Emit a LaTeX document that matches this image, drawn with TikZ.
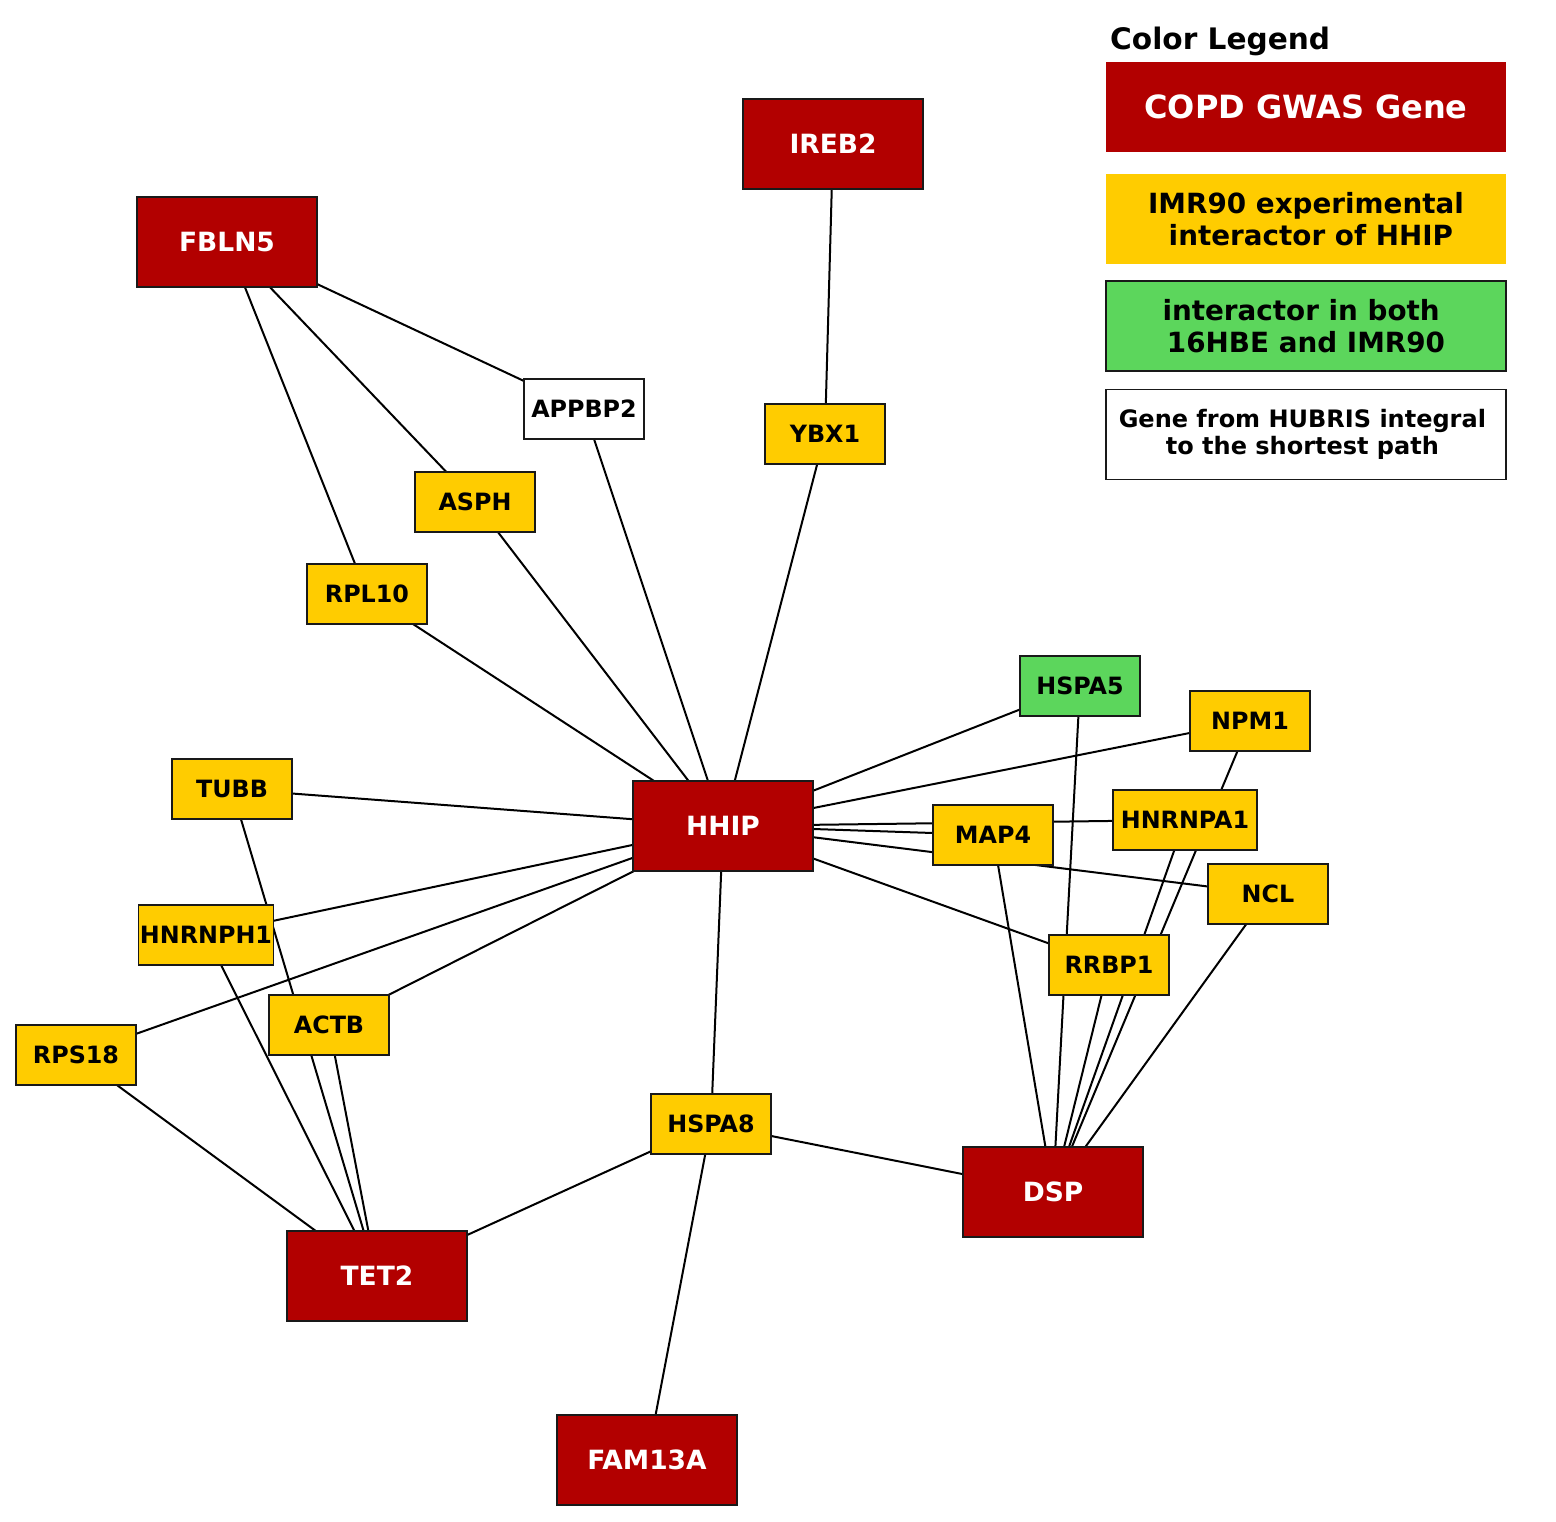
\documentclass[tikz,border=0pt]{standalone}
\usepackage{fontspec}
\setmainfont{DejaVu Sans}
\usepackage{tikz}
\usetikzlibrary{backgrounds}
\definecolor{gwasred}{RGB}{178,0,0}
\definecolor{imryellow}{RGB}{255,204,0}
\definecolor{bothgreen}{RGB}{92,214,92}

\begin{document}
\begin{tikzpicture}[% styles used in image code
        x = 1pt, y = -1pt,
gwas/.style = {draw=black!90, line width=1.8pt, fill=gwasred, text=white,
               minimum width=180pt, minimum height=90pt,
               inner sep=0pt, outer sep=0pt,
               font=\fontsize{26.5}{30}\selectfont\bfseries},
 imr/.style = {draw=black!90, line width=1.8pt, fill=imryellow,
               minimum width=120pt, minimum height=60pt,
               inner sep=1.5pt, outer sep=0pt,
               font=\fontsize{23.8}{27}\selectfont\bfseries},
both/.style = {imr, fill=bothgreen},
hubris/.style = {imr, fill=white},
link/.style = {line width=2pt},
 key/.style = {minimum width=400pt, minimum height=90pt,
               inner sep=0pt, outer sep=0pt, align=center}
                        ]
	\useasboundingbox (0,0) rectangle (1556,1522);

	% genes
	\node[gwas] (IREB2)   at (833,144)  {IREB2};
	\node[gwas] (FBLN5)   at (227,242)  {FBLN5};
	\node[hubris] (APPBP2) at (584,409) {APPBP2};
	\node[imr]  (YBX1)    at (825,434)  {YBX1};
	\node[imr]  (ASPH)    at (475,502)  {ASPH};
	\node[imr]  (RPL10)   at (367,594)  {RPL10};
	\node[both] (HSPA5)   at (1080,686) {HSPA5};
	\node[imr]  (NPM1)    at (1250,721) {NPM1};
	\node[imr]  (TUBB)    at (232,789)  {TUBB};
	\node[gwas] (HHIP)    at (723,826)  {HHIP};
	\node[imr]  (MAP4)    at (993,835)  {MAP4};
	\node[imr, minimum width=144pt] (HNRNPA1) at (1185,820) {HNRNPA1};
	\node[imr]  (NCL)     at (1268,894) {NCL};
	\node[imr]  (HNRNPH1) at (206,935)  {HNRNPH1};
	\node[imr]  (RRBP1)   at (1109,965) {RRBP1};
	\node[imr]  (ACTB)    at (329,1025) {ACTB};
	\node[imr]  (RPS18)   at (76,1055)  {RPS18};
	\node[imr]  (HSPA8)   at (711,1124) {HSPA8};
	\node[gwas] (DSP)     at (1053,1192) {DSP};
	\node[gwas] (TET2)    at (377,1276) {TET2};
	\node[gwas] (FAM13A)  at (647,1460) {FAM13A};

	% interactions, under the boxes
	\begin{scope}[on background layer]
	\draw[link] (FBLN5) -- (APPBP2);
	\draw[link] (FBLN5) -- (ASPH);
	\draw[link] (FBLN5) -- (RPL10);
	\draw[link] (IREB2) -- (YBX1);
	\draw[link] (APPBP2) -- (HHIP);
	\draw[link] (ASPH) -- (HHIP);
	\draw[link] (RPL10) -- (HHIP);
	\draw[link] (YBX1) -- (HHIP);
	\draw[link] (TUBB) -- (HHIP);
	\draw[link] (HNRNPH1) -- (HHIP);
	\draw[link] (RPS18) -- (HHIP);
	\draw[link] (ACTB) -- (HHIP);
	\draw[link] (HHIP) -- (HSPA5);
	\draw[link] (HHIP) -- (NPM1);
	\draw[link] (HHIP) -- (HNRNPA1);
	\draw[link] (HHIP) -- (MAP4);
	\draw[link] (HHIP) -- (NCL);
	\draw[link] (HHIP) -- (RRBP1);
	\draw[link] (HHIP) -- (HSPA8);
	\draw[link] (HSPA5) -- (DSP);
	\draw[link] (NPM1) -- (DSP);
	\draw[link] (HNRNPA1) -- (DSP);
	\draw[link] (MAP4) -- (DSP);
	\draw[link] (NCL) -- (DSP);
	\draw[link] (RRBP1) -- (DSP);
	\draw[link] (HSPA8) -- (DSP);
	\draw[link] (HSPA8) -- (TET2);
	\draw[link] (HSPA8) -- (FAM13A);
	\draw[link] (TUBB) -- (TET2);
	\draw[link] (HNRNPH1) -- (TET2);
	\draw[link] (ACTB) -- (TET2);
	\draw[link] (RPS18) -- (TET2);
	\end{scope}

	% color legend
	\node[anchor=base west, inner sep=0pt,
	      font=\fontsize{29.6}{32}\selectfont\bfseries] (title) at (1110,50) {Color Legend};
	\node[key, fill=gwasred, text=white,
	      font=\fontsize{32}{36}\selectfont\bfseries] (keygwas) at (1306,107) {COPD GWAS Gene};
	\node[key, fill=imryellow,
	      font=\fontsize{27.8}{32}\selectfont\bfseries] (keyimr) at (1306,219)
	      {IMR90 experimental\\\hspace*{.35em}interactor of HHIP};
	\node[key, draw=black!90, line width=1.8pt, fill=bothgreen,
	      font=\fontsize{27.8}{32}\selectfont\bfseries] (keyboth) at (1306,326)
	      {interactor in both\hspace*{.35em}\\16HBE and IMR90};
	\node[key, draw=black!90, line width=1.8pt, fill=white,
	      font=\fontsize{24}{27.7}\selectfont\bfseries] (keyhubris) at (1306,434.5)
	      {Gene from HUBRIS integral\hspace*{.3em}\\to the shortest path\hspace*{.3em}};
\end{tikzpicture}
\end{document}
